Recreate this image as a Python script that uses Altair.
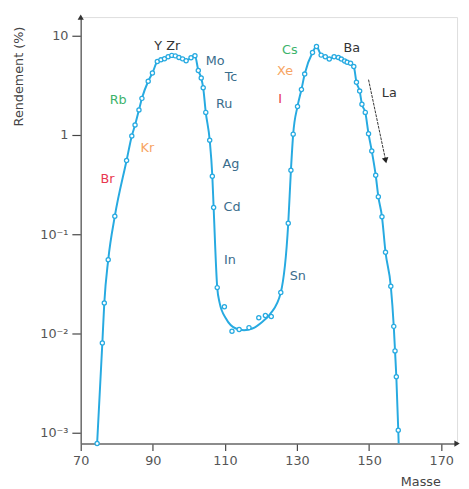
import altair as alt
import pandas as pd

# Points (circles) lying on the curve
mass_main = [74.55, 76.0, 76.54, 77.63, 79.46, 82.72, 84.17, 85.07, 86.16, 86.98, 88.72, 89.89,
             91.25, 92.26, 93.24, 94.25, 95.26, 96.24, 97.25, 98.26, 99.24, 100.60, 101.69,
             102.62, 103.43, 103.98, 104.69, 105.78, 106.51, 106.87, 107.87,
             125.50, 127.57, 128.31, 128.94, 130.14, 131.23, 132.13, 134.3, 135.4, 136.7,
             137.85, 138.94, 140.3, 141.47, 142.29, 143.22, 143.92, 144.85, 145.75, 146.49,
             147.38, 148.01, 148.94, 149.84, 150.74, 151.83, 152.56, 153.57, 154.55, 156.02,
             156.84, 157.19, 157.55, 158.09]
yield_main = [0.00078, 0.00802, 0.0203, 0.0553, 0.152, 0.553, 0.977, 1.26, 1.79, 2.34, 3.48, 4.21,
              5.50, 5.72, 5.87, 6.15, 6.34, 6.27, 6.05, 5.85, 5.60, 6.01, 6.30,
              4.47, 3.75, 2.99, 1.69, 0.887, 0.384, 0.186, 0.0290,
              0.0259, 0.129, 0.441, 1.02, 1.94, 2.87, 4.11, 6.79, 7.8, 6.38,
              6.15, 5.82, 6.15, 6.05, 5.82, 5.57, 5.41, 5.28, 4.90, 3.40,
              2.77, 2.04, 1.69, 1.03, 0.690, 0.393, 0.239, 0.150, 0.0659, 0.0299,
              0.0118, 0.00668, 0.00366, 0.00106]

# Scattered measurement points in the valley (off the smooth curve)
mass_valley = [109.86, 111.96, 113.95, 116.68, 119.40, 121.23, 122.86]
yield_valley = [0.0186, 0.01054, 0.01096, 0.01146, 0.01439, 0.01517, 0.01483]

# Path of the smooth curve through the valley, and its tail to the axis
mass_trough = [108.50, 110.33, 113.05, 115.31, 117.60, 120.33, 122.59, 158.2]
yield_trough = [0.0206, 0.01409, 0.01122, 0.01079, 0.01122, 0.01306, 0.01578, 0.00078]

# Element labels
lab_text = ["Y Zr", "Mo", "Tc", "Ru", "Ag", "Cd", "In", "Sn", "Cs", "Xe", "I", "Ba", "La",
            "Rb", "Kr", "Br"]
lab_mass = [94.0, 107.3, 111.7, 109.8, 111.7, 112.0, 111.4, 130.2, 128.0, 126.7, 125.3, 145.2,
            155.6, 80.4, 88.5, 77.4]
lab_yield = [7.96, 5.53, 3.84, 2.03, 0.505, 0.189, 0.0553, 0.0375, 7.10, 4.41, 2.32, 7.43,
             2.67, 2.27, 0.743, 0.358]
lab_group = ["dark", "blue", "blue", "blue", "blue", "blue", "blue", "blue", "green", "orange",
             "red", "dark", "dark", "green", "orange", "red"]

# Arrow next to La
arrow_mass = [149.84, 154.6]
arrow_yield = [3.61, 0.553]

x_ticks = [70, 90, 110, 130, 150, 170]
y_ticks = [0.001, 0.01, 0.1, 1, 10]

X_DOM = [70, 174.4]
Y_DOM = [0.000778, 15.42]
FONT = "DejaVu Sans"
BLUE = "#27aae1"

pts = pd.DataFrame({"m": mass_main + mass_valley, "y": yield_main + yield_valley})
line_df = pd.DataFrame({"m": mass_main + mass_trough, "y": yield_main + yield_trough}).sort_values("m")
labels = pd.DataFrame({"t": lab_text, "m": lab_mass, "y": lab_yield, "g": lab_group})
arrow = pd.DataFrame({"m": [arrow_mass[0]], "y": [arrow_yield[0]],
                      "m2": [arrow_mass[1]], "y2": [arrow_yield[1]]})
head = pd.DataFrame({"m": [arrow_mass[1]], "y": [arrow_yield[1]]})

xs = alt.Scale(domain=X_DOM, nice=False, zero=False)
ys = alt.Scale(type="log", domain=Y_DOM, nice=False)

label_expr = ("datum.value == 10 ? '10' : datum.value == 1 ? '1' : datum.value == 0.1 ? '10⁻¹' : "
              "datum.value == 0.01 ? '10⁻²' : '10⁻³'")

x_axis = alt.Axis(values=x_ticks, title="Masse", grid=False, labelFont=FONT, labelFontSize=13,
                  labelColor="#555555", labelPadding=4, tickSize=7, tickColor="#444444",
                  tickWidth=1.2, domainColor="#6b6b6b", domainWidth=1.5, titleFont=FONT,
                  titleFontSize=13, titleFontWeight="normal", titleColor="#444444",
                  titleX=366, titleY=39, titleAlign="right", titleBaseline="middle",
                  labelFlush=False)
y_axis = alt.Axis(values=y_ticks, labelExpr=label_expr, title="Rendement (%)", grid=False,
                  labelFont=FONT, labelFontSize=13, labelColor="#555555", labelPadding=4,
                  tickSize=9, tickColor="#444444", tickWidth=1.2, domainColor="#6b6b6b",
                  domainWidth=1.5, titleFont=FONT, titleFontSize=13, titleFontWeight="normal",
                  titleColor="#444444", titleAngle=270, titleX=-63, titleY=60,
                  titleAlign="center", titleBaseline="middle", labelFlush=False)

line = alt.Chart(line_df).mark_line(color=BLUE, strokeWidth=2, interpolate="monotone").encode(
    x=alt.X("m:Q", scale=xs, axis=x_axis),
    y=alt.Y("y:Q", scale=ys, axis=y_axis),
)

points = alt.Chart(pts).mark_point(shape="circle", size=18, filled=False, fill="white",
                                   fillOpacity=1, color=BLUE, strokeWidth=1.3, opacity=1).encode(
    x=alt.X("m:Q", scale=xs), y=alt.Y("y:Q", scale=ys))

text = alt.Chart(labels).mark_text(font=FONT, fontSize=13, align="center", baseline="middle").encode(
    x=alt.X("m:Q", scale=xs), y=alt.Y("y:Q", scale=ys), text="t:N",
    color=alt.Color("g:N", legend=None, scale=alt.Scale(
        domain=["dark", "blue", "green", "orange", "red"],
        range=["#333333", "#3a6d8c", "#3db36b", "#f7a463", "#e8374f"])))

arrow_rule = alt.Chart(arrow).mark_rule(color="#333333", strokeWidth=1, strokeDash=[3, 1]).encode(
    x=alt.X("m:Q", scale=xs), y=alt.Y("y:Q", scale=ys), x2="m2:Q", y2="y2:Q")
arrow_head = alt.Chart(head).mark_point(shape="triangle-down", size=45, filled=True, color="#222222",
                                        angle=348, opacity=1).encode(
    x=alt.X("m:Q", scale=xs), y=alt.Y("y:Q", scale=ys))

axis_arrows = pd.DataFrame({"m": [X_DOM[0], X_DOM[1]], "y": [Y_DOM[1], Y_DOM[0]],
                            "s": ["triangle-up", "triangle-right"]})
ax_heads = alt.Chart(axis_arrows).mark_point(filled=True, size=40, color="#333333", opacity=1).encode(
    x=alt.X("m:Q", scale=xs), y=alt.Y("y:Q", scale=ys),
    shape=alt.Shape("s:N", scale=None, legend=None))

chart = alt.layer(line, points, text, arrow_rule, arrow_head, ax_heads).properties(
    width=383, height=434, autosize="none",
    padding={"left": 74, "top": 5, "right": 4, "bottom": 42},
).configure_view(stroke=None).configure(background="white")

chart.save("out.html", embed_options={"renderer": "svg", "actions": False})
